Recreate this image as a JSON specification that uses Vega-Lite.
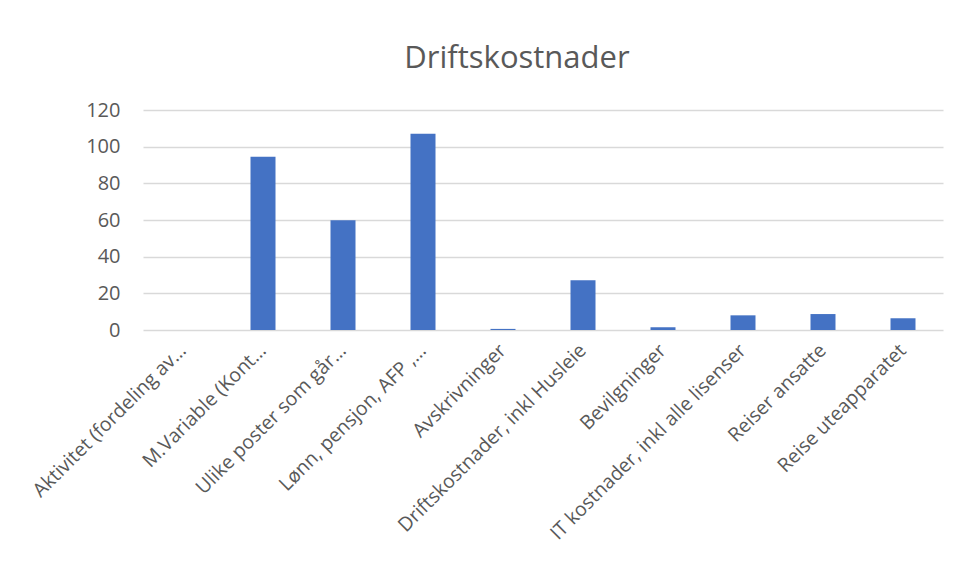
{
  "$schema": "https://vega.github.io/schema/vega-lite/v6.json",
  "width": 800,
  "height": 220,
  "autosize": {"type": "none"},
  "padding": {"left": 143, "top": 110, "right": 17, "bottom": 250},
  "background": "white",
  "title": {
    "text": "Driftskostnader",
    "font": "Open Sans",
    "fontSize": 31,
    "fontWeight": "normal",
    "color": "#595959",
    "anchor": "middle",
    "frame": "group",
    "baseline": "alphabetic",
    "offset": 1,
    "dx": -26
  },
  "data": {
    "values": [
      {"kategori": "Aktivitet (fordeling av…", "verdi": 0},
      {"kategori": "M.Variable (Kont…", "verdi": 94.5},
      {"kategori": "Ulike poster som går…", "verdi": 59.8},
      {"kategori": "Lønn, pensjon, AFP ,…", "verdi": 107.1},
      {"kategori": "Avskrivninger", "verdi": 0.6},
      {"kategori": "Driftskostnader, inkl Husleie", "verdi": 27.2},
      {"kategori": "Bevilgninger", "verdi": 1.5},
      {"kategori": "IT kostnader, inkl alle lisenser", "verdi": 8.0},
      {"kategori": "Reiser ansatte", "verdi": 8.7},
      {"kategori": "Reise uteapparatet", "verdi": 6.4}
    ]
  },
  "mark": {"type": "bar", "color": "#4472C4", "width": 25},
  "encoding": {
    "x": {
      "field": "kategori",
      "type": "nominal",
      "sort": null,
      "scale": {"paddingInner": 0, "paddingOuter": 0},
      "axis": {
        "title": null,
        "labelAngle": -45,
        "labelAlign": "right",
        "labelBaseline": "middle",
        "labelFont": "Open Sans",
        "labelFontSize": 19.5,
        "labelColor": "#595959",
        "labelPadding": 17,
        "labelLimit": 400,
        "ticks": false,
        "domain": false,
        "grid": false
      }
    },
    "y": {
      "field": "verdi",
      "type": "quantitative",
      "scale": {"domain": [0, 120], "nice": false},
      "axis": {
        "title": null,
        "values": [0, 20, 40, 60, 80, 100, 120],
        "labelFont": "Open Sans",
        "labelFontSize": 20,
        "labelColor": "#595959",
        "labelPadding": 23,
        "ticks": false,
        "domain": false,
        "grid": true,
        "gridColor": "#D9D9D9",
        "gridWidth": 1.5
      }
    }
  },
  "config": {"view": {"stroke": null}}
}
